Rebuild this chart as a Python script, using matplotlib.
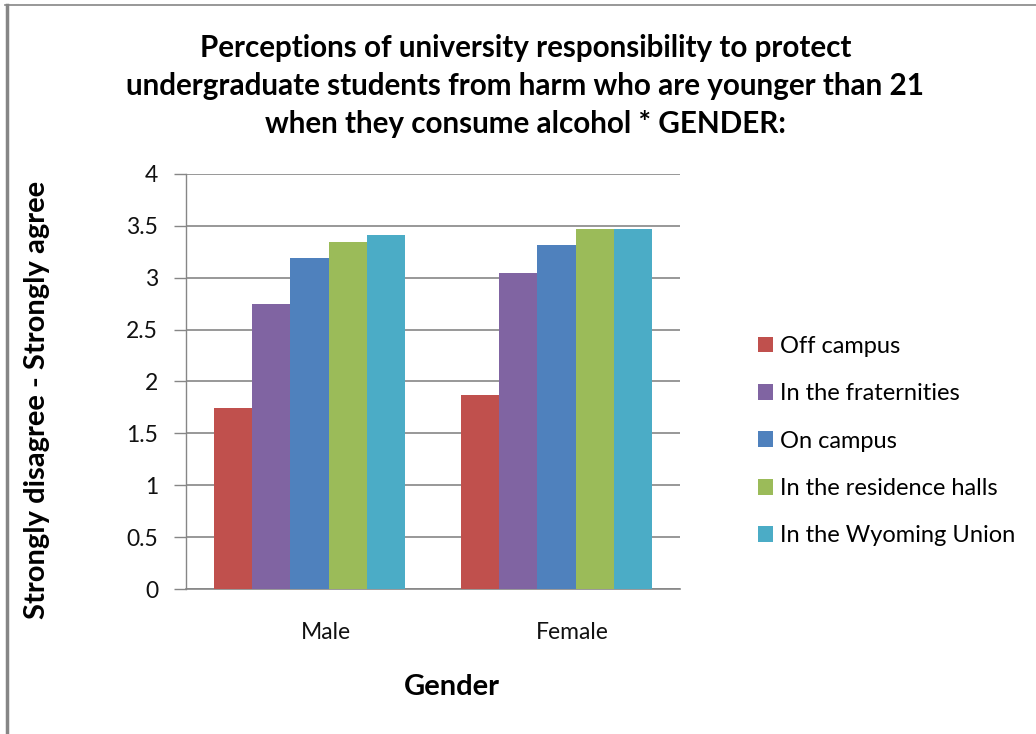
import matplotlib
matplotlib.use("Agg")
import matplotlib.pyplot as plt
import matplotlib.transforms as mtransforms
from matplotlib.lines import Line2D
import numpy as np

# Survey means per gender and location
genders = ["Male", "Female"]
locations = ["Off campus", "In the fraternities", "On campus",
             "In the residence halls", "In the Wyoming Union"]
off_campus = [1.74, 1.87]
fraternities = [2.75, 3.05]
on_campus = [3.19, 3.32]
residence_halls = [3.34, 3.47]
wyoming_union = [3.41, 3.47]
y_ticks = [0, 0.5, 1, 1.5, 2, 2.5, 3, 3.5, 4]
y_tick_labels = ["0", "0.5", "1", "1.5", "2", "2.5", "3", "3.5", "4"]

series = [off_campus, fraternities, on_campus, residence_halls, wyoming_union]
colors = ["#C0504D", "#8064A2", "#4F81BD", "#9BBB59", "#4BACC6"]
grid_color = "#868686"

plt.rcParams['font.family'] = ['Lato', 'DejaVu Sans']

fig = plt.figure(figsize=(10.36, 7.34), dpi=100)
ax = fig.add_axes([0.1795, 0.1975, 0.6564 - 0.1795, 0.763 - 0.1975])

x = np.arange(len(genders))
width = 0.155
offsets = (np.arange(len(series)) - 2) * width
bars = []
for vals, col, lab, off in zip(series, colors, locations, offsets):
    b = ax.bar(x + off, vals, width=width, color=col, label=lab,
               linewidth=0, zorder=3)
    bars.append(b)

ax.set_xlim(-0.5, 1.5)
ax.set_ylim(0, 4)
ax.set_yticks(y_ticks)
ax.set_yticklabels(y_tick_labels, fontsize=16.5, color="#111111")
ax.set_xticks(x)
ax.set_xticklabels(genders, fontsize=16.5, color="#111111")
ax.tick_params(axis='y', length=9, width=1, color=grid_color, pad=11)
ax.tick_params(axis='x', length=0, pad=24)

# category labels sit slightly right of the bar groups
shift = mtransforms.ScaledTranslation(16 / 100, 0, fig.dpi_scale_trans)
for lbl in ax.get_xticklabels():
    lbl.set_transform(lbl.get_transform() + shift)

ax.yaxis.grid(True, color=grid_color, linewidth=1.2, zorder=0)
ax.set_axisbelow(True)
for side in ['top', 'right']:
    ax.spines[side].set_visible(False)
ax.spines['left'].set_color(grid_color)
ax.spines['bottom'].set_color(grid_color)
ax.spines['left'].set_linewidth(1)
ax.spines['bottom'].set_linewidth(1.2)

ax.set_ylabel("Strongly disagree - Strongly agree", fontsize=21,
              fontweight='bold')
ax.yaxis.set_label_coords(-0.275, 0.455)
ax.set_xlabel("Gender", fontsize=21, fontweight='bold')
ax.xaxis.set_label_coords(0.538, -0.205)

fig.text(0.507, 0.883,
         "Perceptions of university responsibility to protect\n"
         "undergraduate students from harm who are younger than 21\n"
         "when they consume alcohol * GENDER:",
         ha='center', va='center', fontsize=21.3, fontweight='bold',
         linespacing=1.42)

fig.legend(handles=bars, labels=locations, loc='upper left',
           bbox_to_anchor=(0.7225, 0.5555), frameon=False, fontsize=17,
           handlelength=0.64, handleheight=0.64, handletextpad=0.3,
           labelspacing=1.12, borderaxespad=0)

# outer frame: top and left edges only
fig.add_artist(Line2D([5 / 1036, 1], [1 - 5 / 734, 1 - 5 / 734],
                      transform=fig.transFigure, color=grid_color, linewidth=1.2))
fig.add_artist(Line2D([6.5 / 1036, 6.5 / 1036], [0, 1 - 5 / 734],
                      transform=fig.transFigure, color=grid_color, linewidth=2.5))

fig.savefig("out.png", dpi=100, facecolor='white')
